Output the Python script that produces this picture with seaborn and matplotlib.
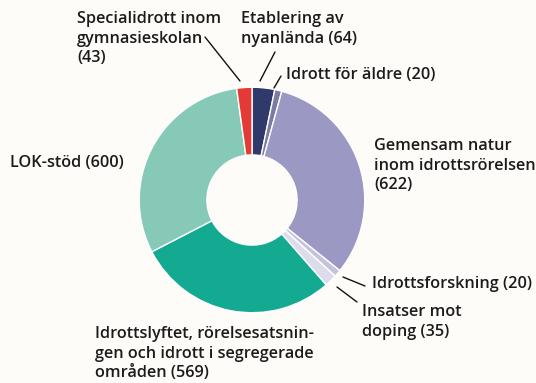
import matplotlib
matplotlib.use("Agg")
import matplotlib.pyplot as plt
import seaborn as sns

# Funding areas (MSEK), in clockwise order starting at 12 o'clock
categories = [
    "Etablering av\nnyanlända",
    "Idrott för äldre",
    "Gemensam natur\ninom idrottsrörelsen\n",
    "Idrottsforskning",
    "Insatser mot\ndoping",
    "Idrottslyftet, rörelsesatsnin-\ngen och idrott i segregerade\nområden",
    "LOK-stöd",
    "Specialidrott inom\ngymnasieskolan\n",
]
values = [64, 20, 622, 20, 35, 569, 600, 43]
colors = ["#2f3a6b", "#7c7ba8", "#9b99c3", "#c4c3de", "#dddcec",
          "#14aa92", "#86c9b6", "#e43a35"]

sns.set_theme(style="white")
plt.rcParams["font.family"] = ["Open Sans", "DejaVu Sans"]

BG = "#fdfcf8"
W, H = 536, 383
fig = plt.figure(figsize=(W / 100, H / 100), dpi=100, facecolor=BG)

# donut centred at (252, 200) px from top-left, outer radius ~115 px
cx, cy, r = 252, 200, 115
ax = fig.add_axes([(cx - r) / W, (H - cy - r) / H, 2 * r / W, 2 * r / H])
ax.set_facecolor(BG)
ax.pie(values, colors=colors, startangle=90, counterclock=False,
       radius=1.0, wedgeprops=dict(width=0.6, edgecolor="white", linewidth=1.0))
ax.set_xlim(-1.02, 1.02)
ax.set_ylim(-1.02, 1.02)
ax.set_aspect("equal")
ax.axis("off")


def fx(x):
    return x / W


def fy(y):
    return 1 - y / H


label_text = [f"{c.rstrip()}{' ' if not c.endswith(chr(10)) else chr(10)}({v})"
              for c, v in zip(categories, values)]

# label anchors: (left x, top y) in pixels
label_pos = [(241, 11), (286, 67), (374, 138), (372, 276), (362, 304),
             (95, 326), (10, 155), (77, 11)]

text_kw = dict(fontsize=11.7, fontweight="semibold", color="#1b1b1b",
               ha="left", va="top", linespacing=1.3)
for txt, (x, y) in zip(label_text, label_pos):
    fig.text(fx(x), fy(y), txt, **text_kw)

# leader lines: (x0, y0, x1, y1) in pixels
leaders = [(275, 52, 260, 81), (281, 76, 274, 88), (343, 277, 365, 286),
           (337, 287, 357, 302), (205, 37, 240, 81)]
for x0, y0, x1, y1 in leaders:
    fig.add_artist(plt.Line2D([fx(x0), fx(x1)], [fy(y0), fy(y1)],
                              transform=fig.transFigure, color="#111111", lw=1.0))

fig.savefig("out.png", dpi=100, facecolor=BG)
